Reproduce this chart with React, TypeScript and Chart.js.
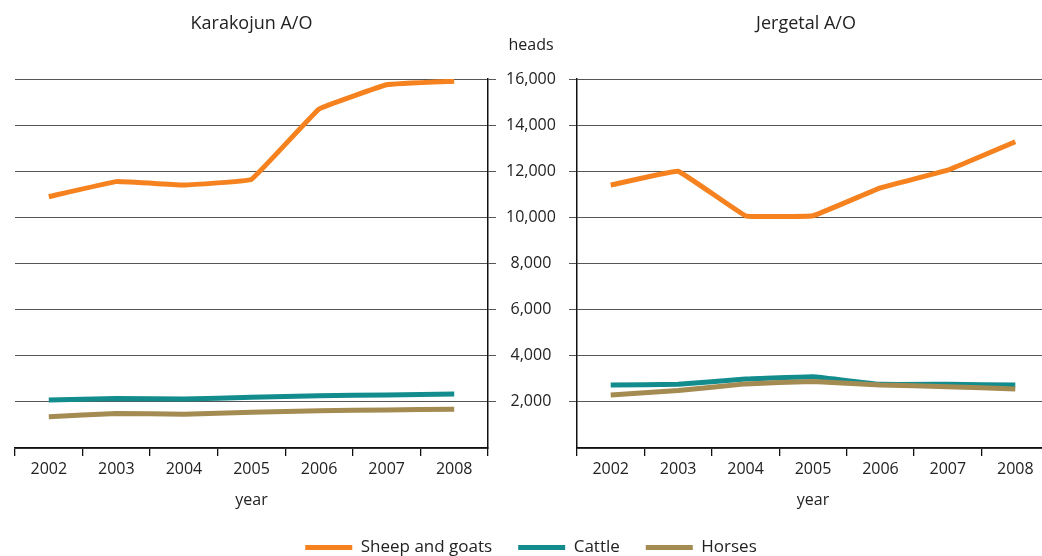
import React, { useEffect, useRef } from 'react';
import { Chart, registerables } from 'chart.js';

Chart.register(...registerables);

const years = ['2002', '2003', '2004', '2005', '2006', '2007', '2008'];
const seriesNames = ['Sheep and goats', 'Cattle', 'Horses'];
const seriesColors = ['#F5821F', '#138C8E', '#A38B51'];

const karakojunSheep = [10900, 11550, 11400, 11650, 14700, 15750, 15900];
const karakojunCattle = [2080, 2150, 2120, 2200, 2270, 2300, 2340];
const karakojunHorses = [1360, 1500, 1460, 1550, 1620, 1650, 1680];

const jergetalSheep = [11400, 12000, 10070, 10070, 11280, 12050, 13280];
const jergetalCattle = [2730, 2760, 2990, 3090, 2760, 2760, 2730];
const jergetalHorses = [2300, 2490, 2780, 2880, 2730, 2660, 2560];

const yMin = 0;
const yMax = 16000;
const yStep = 2000;

const FONT = "'Open Sans', sans-serif";
const TEXT = '#222';
const GRID = '#555';
const AXIS = '#111';

function makeDatasets(values: number[][]) {
  return values.map((data, i) => ({
    label: seriesNames[i],
    data,
    borderColor: seriesColors[i],
    backgroundColor: seriesColors[i],
    borderWidth: 5,
    pointRadius: 0,
    pointHoverRadius: 0,
    tension: 0.06,
    borderJoinStyle: 'round' as const,
    borderCapStyle: 'butt' as const,
    order: 3 - i,
  }));
}

function xScale() {
  return {
    type: 'category' as const,
    offset: true,
    grid: {
      display: true,
      drawOnChartArea: false,
      offset: true,
      color: AXIS,
      lineWidth: 1.3,
      tickLength: 8,
    },
    border: { display: true, color: AXIS, width: 1.5 },
    ticks: {
      color: TEXT,
      font: { size: 16, family: FONT },
      padding: 4,
      maxRotation: 0,
      autoSkip: false,
    },
    title: {
      display: true,
      text: 'year',
      color: TEXT,
      font: { size: 16, family: FONT },
      padding: { top: 0, bottom: 3 },
    },
    afterFit: (s: any) => {
      s.height = 65;
    },
  };
}

function yGrid() {
  return {
    color: GRID,
    lineWidth: 1,
    tickLength: 8,
    tickColor: (ctx: any) => (ctx.tick && ctx.tick.value === 0 ? 'rgba(0,0,0,0)' : GRID),
  };
}

const headsLabel = {
  id: 'headsLabel',
  afterDraw(chart: any) {
    const ctx = chart.ctx;
    const s = chart.scales.y;
    ctx.save();
    ctx.font = `16px ${FONT}`;
    ctx.fillStyle = TEXT;
    ctx.textAlign = 'center';
    ctx.textBaseline = 'middle';
    ctx.fillText('heads', s.left + 43, 45);
    ctx.restore();
  },
};

function titleOpts(text: string, fullSize: boolean) {
  return {
    display: true,
    text,
    fullSize,
    color: TEXT,
    font: { size: 18, family: FONT, weight: 'normal' as const },
    padding: { top: 13, bottom: 44.4 },
  };
}

export default function App() {
  const leftRef = useRef<HTMLCanvasElement>(null);
  const rightRef = useRef<HTMLCanvasElement>(null);

  useEffect(() => {
    Chart.defaults.font.family = FONT;
    const left = new Chart(leftRef.current!, {
      type: 'line',
      data: {
        labels: years,
        datasets: makeDatasets([karakojunSheep, karakojunCattle, karakojunHorses]),
      },
      options: {
        animation: false,
        responsive: true,
        maintainAspectRatio: false,
        events: [],
        layout: { padding: { left: 15, right: 0, top: 0, bottom: 0 } },
        scales: {
          x: xScale(),
          y: {
            position: 'right',
            min: yMin,
            max: yMax,
            ticks: {
              stepSize: yStep,
              padding: 10,
              crossAlign: 'center',
              color: TEXT,
              font: { size: 16, family: FONT },
              callback: (v: any) => (Number(v) === 0 ? '' : Number(v).toLocaleString('en-US')),
            },
            grid: yGrid(),
            border: { display: true, color: AXIS, width: 1.5 },
            afterFit: (s: any) => {
              s.width = 559;
            },
          },
        },
        plugins: {
          title: titleOpts('Karakojun A/O', false),
          tooltip: { enabled: false },
          legend: {
            display: true,
            position: 'bottom',
            labels: {
              boxWidth: 47,
              boxHeight: 5,
              padding: 26,
              color: TEXT,
              font: { size: 17, family: FONT },
              generateLabels: (chart: any) =>
                Chart.defaults.plugins.legend.labels
                  .generateLabels(chart)
                  .map((l: any) => ({ ...l, fillStyle: l.strokeStyle, lineWidth: 0 })),
              sort: (a: any, b: any) => a.datasetIndex - b.datasetIndex,
            },
          },
        },
      } as any,
      plugins: [headsLabel],
    });

    const right = new Chart(rightRef.current!, {
      type: 'line',
      data: {
        labels: years,
        datasets: makeDatasets([jergetalSheep, jergetalCattle, jergetalHorses]),
      },
      options: {
        animation: false,
        responsive: true,
        maintainAspectRatio: false,
        events: [],
        layout: { padding: { left: 0, right: 11, top: 0, bottom: 53 } },
        scales: {
          x: xScale(),
          y: {
            position: 'left',
            min: yMin,
            max: yMax,
            ticks: { stepSize: yStep, display: false },
            grid: yGrid(),
            border: { display: true, color: AXIS, width: 1.5 },
            afterFit: (s: any) => {
              s.width = 14;
            },
          },
        },
        plugins: {
          title: titleOpts('Jergetal A/O', true),
          tooltip: { enabled: false },
          legend: { display: false },
        },
      } as any,
    });

    return () => {
      left.destroy();
      right.destroy();
    };
  }, []);

  return (
    <div
      style={{
        position: 'absolute',
        left: 0,
        top: 0,
        width: 1042,
        height: 556,
        overflow: 'hidden',
        background: '#ffffff',
      }}
    >
      <div style={{ position: 'absolute', left: 0, top: 0, width: 1047, height: 566 }}>
        <canvas ref={leftRef} />
      </div>
      <div style={{ position: 'absolute', left: 563, top: 0, width: 497, height: 566 }}>
        <canvas ref={rightRef} />
      </div>
    </div>
  );
}
